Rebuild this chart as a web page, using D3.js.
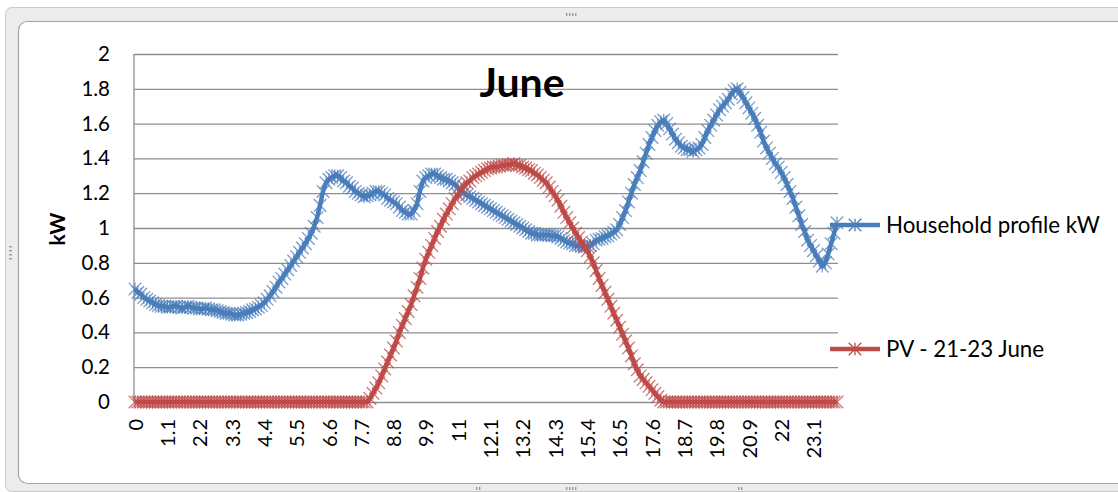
<!DOCTYPE html>
<html>
<head>
<meta charset="utf-8">
<script src="https://cdn.jsdelivr.net/npm/d3@7"></script>
<style>
  body { margin: 0; background: #fff; }
  svg { display: block; }
  text { font-family: Lato, "Open Sans", sans-serif; fill: #000; }
</style>
</head>
<body>
<svg id="chart" width="1118" height="492"></svg>
<script>
// Time of day in 6-minute steps (tenths of an hour), one category per reading
const categories = d3.range(240).map(i => String(+(i / 10).toFixed(1)));

const xTickLabels = ["0", "1.1", "2.2", "3.3", "4.4", "5.5", "6.6", "7.7", "8.8", "9.9", "11",
  "12.1", "13.2", "14.3", "15.4", "16.5", "17.6", "18.7", "19.8", "20.9", "22", "23.1"];

const yTickValues = [0, 0.2, 0.4, 0.6, 0.8, 1, 1.2, 1.4, 1.6, 1.8, 2];

const seriesNames = ["Household profile kW", "PV - 21-23 June"];

// Household load, kW (rows = hours 0..23, ten readings each)
const household = [
  0.65, 0.63, 0.62, 0.60, 0.59, 0.58, 0.57, 0.56, 0.555, 0.55,
  0.55, 0.545, 0.545, 0.55, 0.55, 0.545, 0.54, 0.545, 0.55, 0.545,
  0.54, 0.54, 0.535, 0.535, 0.54, 0.535, 0.53, 0.53, 0.525, 0.52,
  0.515, 0.51, 0.51, 0.505, 0.50, 0.50, 0.505, 0.51, 0.515, 0.52,
  0.53, 0.535, 0.545, 0.555, 0.57, 0.59, 0.61, 0.635, 0.66, 0.69,
  0.71, 0.735, 0.76, 0.785, 0.81, 0.835, 0.86, 0.885, 0.91, 0.94,
  0.97, 1.01, 1.06, 1.13, 1.21, 1.26, 1.28, 1.29, 1.30, 1.30,
  1.29, 1.27, 1.26, 1.24, 1.23, 1.21, 1.20, 1.19, 1.18, 1.185,
  1.19, 1.20, 1.21, 1.21, 1.20, 1.19, 1.17, 1.16, 1.15, 1.14,
  1.12, 1.10, 1.09, 1.08, 1.08, 1.10, 1.14, 1.21, 1.27, 1.29,
  1.30, 1.31, 1.31, 1.30, 1.29, 1.28, 1.28, 1.27, 1.26, 1.25,
  1.23, 1.21, 1.20, 1.19, 1.18, 1.17, 1.16, 1.15, 1.14, 1.13,
  1.12, 1.11, 1.10, 1.09, 1.08, 1.07, 1.06, 1.05, 1.04, 1.03,
  1.02, 1.01, 1.00, 0.99, 0.98, 0.97, 0.97, 0.96, 0.96, 0.96,
  0.96, 0.96, 0.955, 0.955, 0.95, 0.94, 0.93, 0.92, 0.915, 0.91,
  0.90, 0.90, 0.895, 0.89, 0.895, 0.90, 0.91, 0.93, 0.935, 0.94,
  0.95, 0.955, 0.965, 0.975, 0.99, 1.02, 1.06, 1.10, 1.15, 1.20,
  1.25, 1.29, 1.33, 1.38, 1.43, 1.48, 1.52, 1.56, 1.59, 1.61,
  1.62, 1.60, 1.57, 1.54, 1.51, 1.49, 1.47, 1.46, 1.45, 1.45,
  1.44, 1.45, 1.46, 1.48, 1.52, 1.56, 1.59, 1.62, 1.65, 1.68,
  1.70, 1.72, 1.74, 1.77, 1.79, 1.80, 1.78, 1.75, 1.72, 1.69,
  1.66, 1.63, 1.59, 1.55, 1.50, 1.46, 1.43, 1.40, 1.37, 1.35,
  1.32, 1.29, 1.25, 1.21, 1.17, 1.12, 1.07, 1.02, 0.98, 0.93,
  0.90, 0.87, 0.84, 0.81, 0.78, 0.80, 0.85, 0.91, 0.97, 1.03
];

// PV output 21-23 June, kW (rows = hours 0..23, ten readings each)
const pv = [
  0, 0, 0, 0, 0, 0, 0, 0, 0, 0,
  0, 0, 0, 0, 0, 0, 0, 0, 0, 0,
  0, 0, 0, 0, 0, 0, 0, 0, 0, 0,
  0, 0, 0, 0, 0, 0, 0, 0, 0, 0,
  0, 0, 0, 0, 0, 0, 0, 0, 0, 0,
  0, 0, 0, 0, 0, 0, 0, 0, 0, 0,
  0, 0, 0, 0, 0, 0, 0, 0, 0, 0,
  0, 0, 0, 0, 0, 0, 0, 0, 0, 0,
  0.02, 0.05, 0.08, 0.11, 0.15, 0.19, 0.23, 0.27, 0.31, 0.35,
  0.40, 0.44, 0.48, 0.52, 0.56, 0.61, 0.66, 0.71, 0.77, 0.82,
  0.86, 0.90, 0.94, 0.98, 1.01, 1.05, 1.08, 1.11, 1.14, 1.17,
  1.19, 1.22, 1.24, 1.26, 1.27, 1.29, 1.30, 1.31, 1.32, 1.33,
  1.34, 1.345, 1.35, 1.35, 1.355, 1.36, 1.36, 1.365, 1.365, 1.37,
  1.36, 1.36, 1.35, 1.345, 1.335, 1.33, 1.315, 1.305, 1.29, 1.275,
  1.26, 1.235, 1.21, 1.185, 1.16, 1.125, 1.09, 1.06, 1.03, 1.00,
  0.97, 0.945, 0.92, 0.895, 0.87, 0.835, 0.80, 0.755, 0.71, 0.67,
  0.63, 0.59, 0.55, 0.51, 0.47, 0.43, 0.39, 0.35, 0.31, 0.265,
  0.22, 0.185, 0.15, 0.13, 0.11, 0.09, 0.07, 0.05, 0.03, 0.01,
  0, 0, 0, 0, 0, 0, 0, 0, 0, 0,
  0, 0, 0, 0, 0, 0, 0, 0, 0, 0,
  0, 0, 0, 0, 0, 0, 0, 0, 0, 0,
  0, 0, 0, 0, 0, 0, 0, 0, 0, 0,
  0, 0, 0, 0, 0, 0, 0, 0, 0, 0,
  0, 0, 0, 0, 0, 0, 0, 0, 0, 0
];

const colors = ["#4a7ebb", "#be4b48"];

const svg = d3.select("#chart");
const W = 1118, H = 492;

// ---- chart frame (window band + rounded chart border) ----
svg.append("rect")
  .attr("x", 5.5).attr("y", 7.5).attr("width", W + 10).attr("height", H - 8)
  .attr("rx", 6).attr("fill", "#ececec").attr("stroke", "#c9c9c9");
svg.append("rect")
  .attr("x", 18.5).attr("y", 21.5).attr("width", W + 10).attr("height", 462)
  .attr("rx", 9).attr("fill", "#fff").attr("stroke", "#a6a6a6").attr("stroke-width", 1.2);
// grip dots on the frame
const grip = svg.append("g").attr("fill", "#9a9a9a");
[[566, 13], [569, 13], [572, 13], [575, 13]].forEach(([gx, gy]) =>
  grip.append("rect").attr("x", gx).attr("y", gy).attr("width", 1.4).attr("height", 3));
[[9, 246], [9, 250], [9, 254], [9, 258]].forEach(([gx, gy]) =>
  grip.append("rect").attr("x", gx).attr("y", gy).attr("width", 3).attr("height", 1.4));
[[476, 487], [479, 487], [566, 487], [569, 487], [572, 487], [575, 487], [738, 487], [741, 487]].forEach(([gx, gy]) =>
  grip.append("rect").attr("x", gx).attr("y", gy).attr("width", 1.4).attr("height", 3));

// ---- scales ----
const plot = { left: 135, right: 837, top: 54, bottom: 402 };
const x = d3.scalePoint().domain(categories).range([plot.left, plot.right]);
const y = d3.scaleLinear().domain([0, 2]).range([plot.bottom, plot.top]);

// ---- gridlines ----
svg.append("g")
  .attr("transform", `translate(${plot.left - 1},0)`)
  .call(d3.axisLeft(y).tickValues(yTickValues).tickSize(-(plot.right + 2 - plot.left)).tickFormat(""))
  .call(g => g.select(".domain").remove())
  .call(g => g.selectAll("line").attr("stroke", "#8e8e8e").attr("stroke-width", 1.3));

// y axis line
svg.append("line")
  .attr("x1", plot.left - 1).attr("x2", plot.left - 1)
  .attr("y1", plot.top).attr("y2", plot.bottom)
  .attr("stroke", "#8e8e8e").attr("stroke-width", 1.3);

// ---- y tick labels ----
svg.append("g")
  .attr("transform", `translate(${plot.left - 1},0)`)
  .call(d3.axisLeft(y).tickValues(yTickValues).tickSize(0).tickPadding(24).tickFormat(d3.format("~g")))
  .call(g => g.select(".domain").remove())
  .call(g => g.selectAll("text")
    .attr("font-family", "Lato, sans-serif").attr("font-size", 20.5).attr("fill", "#000"));

// ---- x tick labels (rotated) ----
svg.append("g")
  .attr("transform", `translate(0,${plot.bottom})`)
  .call(d3.axisBottom(x).tickValues(xTickLabels).tickSize(0))
  .call(g => g.select(".domain").remove())
  .call(g => g.selectAll("text")
    .attr("font-family", "Lato, sans-serif").attr("font-size", 20)
    .attr("fill", "#000")
    .attr("text-anchor", "end")
    .attr("transform", "rotate(-90)")
    .attr("x", -17).attr("y", 0).attr("dy", "0.36em"));

// ---- series ----
const series = [household, pv];
const line = d3.line().x((d, i) => x(categories[i])).y(d => y(d));
const s = 6.3;
const star = `M0,${-s}L0,${s}M${-s},${-s}L${s},${s}M${-s},${s}L${s},${-s}`;

series.forEach((vals, k) => {
  const g = svg.append("g");
  g.append("path")
    .datum(vals)
    .attr("d", line)
    .attr("fill", "none")
    .attr("stroke", colors[k])
    .attr("stroke-width", 4.5)
    .attr("stroke-linejoin", "round");
  g.selectAll("path.m")
    .data(vals)
    .join("path")
    .attr("class", "m")
    .attr("d", star)
    .attr("transform", (d, i) => `translate(${x(categories[i])},${y(d)})`)
    .attr("fill", "none")
    .attr("stroke", colors[k])
    .attr("stroke-opacity", 0.75)
    .attr("stroke-width", 1.3);
});

// ---- title ----
svg.append("text")
  .attr("x", 522).attr("y", 97)
  .attr("text-anchor", "middle")
  .attr("font-size", 41).attr("font-weight", 700)
  .text("June");

// ---- y axis title ----
svg.append("text")
  .attr("transform", "translate(65,229) rotate(-90)")
  .attr("text-anchor", "middle")
  .attr("font-size", 21).attr("font-weight", 700)
  .text("kW");

// ---- legend ----
const legendY = [225, 349];
seriesNames.forEach((name, k) => {
  const g = svg.append("g").attr("transform", `translate(0,${legendY[k]})`);
  g.append("line")
    .attr("x1", 830).attr("x2", 880)
    .attr("stroke", colors[k]).attr("stroke-width", 4.5);
  g.append("path")
    .attr("d", star)
    .attr("transform", "translate(855,0)")
    .attr("fill", "none").attr("stroke", colors[k]).attr("stroke-width", 1.3);
  g.append("text")
    .attr("x", 886).attr("dy", "0.36em")
    .attr("font-size", 22.3)
    .text(name);
});
</script>
</body>
</html>
